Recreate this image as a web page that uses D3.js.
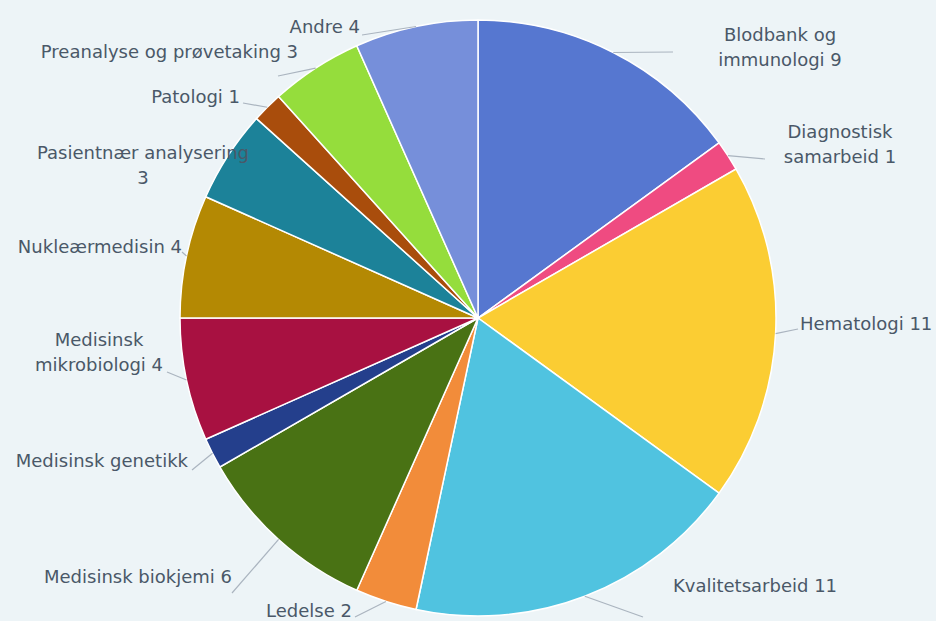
<!DOCTYPE html>
<html>
<head>
<meta charset="utf-8">
<script src="https://cdn.jsdelivr.net/npm/d3@7"></script>
<style>
  body { margin: 0; background: #edf4f7; }
  text { font-family: "DejaVu Sans", sans-serif; font-size: 18px; fill: #4a5868; }
</style>
</head>
<body>
<div id="chart-area"></div>
<script>
const WIDTH = 936
const HEIGHT = 621

// data
const categories = [
  "Blodbank og immunologi", "Diagnostisk samarbeid", "Hematologi", "Kvalitetsarbeid",
  "Ledelse", "Medisinsk biokjemi", "Medisinsk genetikk", "Medisinsk mikrobiologi",
  "Nukleærmedisin", "Pasientnær analysering", "Patologi", "Preanalyse og prøvetaking", "Andre"
]
const values = [9, 1, 11, 11, 2, 6, 1, 4, 4, 3, 1, 3, 4]
const labelLines = [
  ["Blodbank og", "immunologi 9"],
  ["Diagnostisk", "samarbeid 1"],
  ["Hematologi 11"],
  ["Kvalitetsarbeid 11"],
  ["Ledelse 2"],
  ["Medisinsk biokjemi 6"],
  ["Medisinsk genetikk"],
  ["Medisinsk", "mikrobiologi 4"],
  ["Nukleærmedisin 4"],
  ["Pasientnær analysering", "3"],
  ["Patologi 1"],
  ["Preanalyse og prøvetaking 3"],
  ["Andre 4"]
]
const colors = [
  "#5677d0", "#ef4b81", "#fbcd33", "#50c3e0", "#f28c3a", "#497214", "#243f8c",
  "#a81141", "#b48903", "#1c8299", "#a94d0c", "#95dd3c", "#768fda"
]

// label layout (text anchor point + leader end)
const labelLayout = [
  { x: 780, y: 41, anchor: "middle", lx: 673, ly: 52 },
  { x: 840, y: 138, anchor: "middle", lx: 765, ly: 159 },
  { x: 800, y: 330, anchor: "start", lx: 798, ly: 329 },
  { x: 673, y: 592, anchor: "start", lx: 643, ly: 617 },
  { x: 352, y: 617, anchor: "end", lx: 355, ly: 617 },
  { x: 232, y: 583, anchor: "end", lx: 232, ly: 593 },
  { x: 188, y: 467, anchor: "end", lx: 192, ly: 470 },
  { x: 99, y: 346, anchor: "middle", lx: 167, ly: 372 },
  { x: 182, y: 253, anchor: "end", lx: 182, ly: 252 },
  { x: 143, y: 159, anchor: "middle", lx: null, ly: null },
  { x: 240, y: 103, anchor: "end", lx: 243, ly: 103 },
  { x: 298, y: 58, anchor: "end", lx: 278, ly: 76 },
  { x: 360, y: 33, anchor: "end", lx: 362, ly: 35 }
]

const data = categories.map((c, i) => ({ name: c, value: values[i], i: i }))

const cx = 478, cy = 318, R = 298

const svg = d3.select("#chart-area")
    .append("svg")
    .attr("width", WIDTH)
    .attr("height", HEIGHT)

svg.append("rect")
    .attr("width", WIDTH)
    .attr("height", HEIGHT)
    .attr("fill", "#edf4f7")

const g = svg.append("g")
    .attr("transform", `translate(${cx}, ${cy})`)

const pie = d3.pie()
    .sort(null)
    .value(d => d.value)

const arc = d3.arc()
    .innerRadius(0)
    .outerRadius(R)

const arcs = pie(data)

g.selectAll("path.slice")
    .data(arcs)
    .enter().append("path")
    .attr("class", "slice")
    .attr("d", arc)
    .attr("fill", d => colors[d.data.i])
    .attr("stroke", "#ffffff")
    .attr("stroke-width", 1.5)

// leader lines from the rim at mid-angle to the label
svg.selectAll("line.leader")
    .data(arcs.filter(d => labelLayout[d.data.i].lx !== null))
    .enter().append("line")
    .attr("class", "leader")
    .attr("x1", d => cx + R * Math.sin((d.startAngle + d.endAngle) / 2))
    .attr("y1", d => cy - R * Math.cos((d.startAngle + d.endAngle) / 2))
    .attr("x2", d => labelLayout[d.data.i].lx)
    .attr("y2", d => labelLayout[d.data.i].ly)
    .attr("stroke", "#aab4bf")
    .attr("stroke-width", 1.2)

const labels = svg.selectAll("text.label")
    .data(data)
    .enter().append("text")
    .attr("class", "label")
    .attr("x", d => labelLayout[d.i].x)
    .attr("y", d => labelLayout[d.i].y)
    .attr("text-anchor", d => labelLayout[d.i].anchor)

labels.selectAll("tspan")
    .data(d => labelLines[d.i].map(t => ({ t: t, x: labelLayout[d.i].x })))
    .enter().append("tspan")
    .attr("x", d => d.x)
    .attr("dy", (d, j) => j === 0 ? 0 : 25)
    .text(d => d.t)
</script>
</body>
</html>
